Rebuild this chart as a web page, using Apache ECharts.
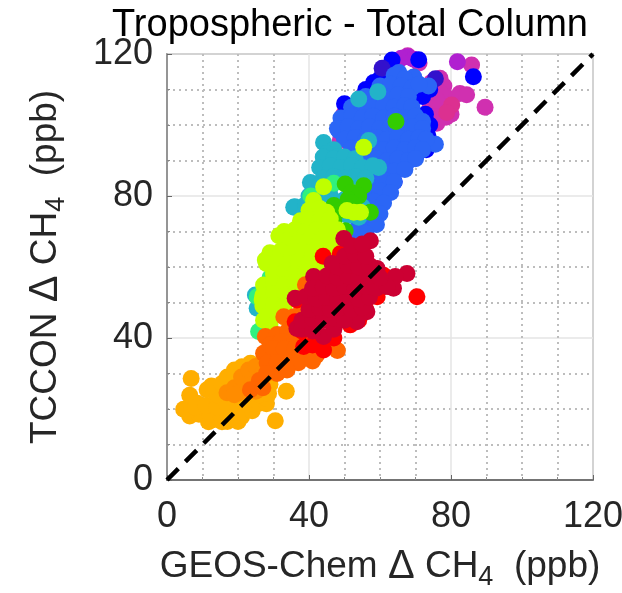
<!DOCTYPE html>
<html><head><meta charset="utf-8">
<style>html,body{margin:0;padding:0;background:#fff}#c{width:622px;height:593px}</style>
<script src="https://cdn.jsdelivr.net/npm/echarts@6/dist/echarts.min.js"></script>
</head><body><div id="c"></div>
<script>
const magenta=[[67.8,119.5],[65,118],[71,117.5],[76.9,113.2],[74.5,112],[78,111],[75,107],[77,105],[73,108],[78.6,102.2],[76,103.5],[78.5,108],[85.8,116.9],[82.5,108.9],[84.4,108.5],[89.6,105],[49.8,103],[48.8,95.6],[55,108],[61,113],[74,104.5],[79,105],[72,110],[75,110],[77,109],[76,107],[74,102],[80,103],[76,100.5]];
const rose=[[80.2,105.6],[78.8,103.5]];
const purple=[[67.8,119.2],[81.8,117.8],[66,118.8],[69.5,118.5]];
const violet=[[60.6,116],[75.6,113]];
const blue=[[63.4,118.3],[70.9,118.4],[58.2,112],[61,111.5],[50,106],[71.4,92.8],[72.8,103],[73.5,97],[74,100],[70,91],[62,81],[60,78],[56,68],[54,66],[86.3,113.6],[64,110],[72,108],[54,104],[68,90],[64,84],[74,110],[60,113],[56,110],[73,93]];
const royal=[[65.3,114.8],[69.5,113.5],[73.7,111],[75.6,94.6],[67.6,89.5],[62.4,82.4],[58.2,73],[55.4,69.3],[48.4,98.4],[50.7,101],
[64,114],[67,113],[60,111],[63,111.5],[66,111],[69,110.5],[71,111.5],
[56,108],[59,108.5],[62,108],[65,108.5],[68,108],
[52,105],[55,105.5],[58,105],[61,105.5],[64,105],[67,105.5],[69,105],
[49,102],[52,102.5],[55,102],[58,102.5],[61,102],[64,102.5],[67,102],[70,102.5],[72,101],
[48,99],[51,99.5],[54,99],[57,99.5],[60,99],[63,99.5],[66,99],[69,99.5],[72,99],
[50,96],[53,96.5],[56,96],[59,96.5],[62,96],[65,96.5],[68,96],[71,96.5],[73,96],
[52,93.5],[55,93],[58,93.5],[61,93],[64,93.5],[67,93],[70,93.5],[72,93],
[56,90],[59,90.5],[62,90],[65,90.5],[68,90],[70,90.5],
[58,87],[61,87.5],[64,87],[67,87.5],[58,84],[61,84.5],[64,84],
[57,81],[60,81.5],[63,81],[55,78],[58,78.5],[61,78],[54,75],[57,75.5],[60,75],[54,72],[57,72.5],[59,72],[53,69],[56,69.5]];
const cyan=[[44.1,95.1],[35.7,76.8],[40.4,83.8],[59.6,88],[54,107.3],[59.4,109.4],[56.8,95.6],
[47,93],[45,92],[48,91],[44,91],[47,90.5],[50,91],[53,90.5],[43,88],[46,88.5],[49,88],[52,88.5],[55,88],[58,88.5],
[44,85],[47,85.5],[50,85],[53,85.5],[56,85],[43,83],[46,82.5],[40,80],[43,80.5],[46,80],[50,79],[36,77],[39,77.5],[42,77],[48,77],[52,76.5],[55,77],[47,74],[51,74.5],[54,74]];
const spring=[[47,83.6],[40.5,80],[47.5,76.5],[44,75],[25.4,51.6],[25.8,41.8],[29,57],[43,70]];
const cyanLow=[[24.9,52.1],[25.4,48.4]];
const green=[[64.5,101],[50.2,83.4],[55.4,82.9],[52,81],[54,80],[51,79],[47,77.3],[49,76],[57.3,75.4],[50.2,70.2],[47,73],[52,78],[59.5,55.5]];
const lime=[[31.5,68.8],[27.7,62],[41.3,78.7],[37.6,73],[45,75.4],[44.1,82.6],[55.4,93.7],[50.7,75.9],[52.6,75.4],[54.5,75.4],
[40,76],[43,76.5],[40,73.5],[43,73],[46,73.5],[33,70],[36,70.5],[39,70],[42,70.5],[45,70],[48,70.5],
[34,67.5],[37,67],[40,67.5],[43,67],[46,67.5],[49,67],[29,64],[32,64.5],[35,64],[38,64.5],[41,64],[44,64.5],[47,64],
[28,61],[31,61.5],[34,61],[37,61.5],[40,61],[43,61.5],[46,61],[30,58],[33,58.5],[36,58],[39,58.5],[42,58],
[27.2,54.9],[30,55.5],[33,55],[36,55.5],[39,55],[26.8,50.7],[27,52],[30,52.5],[33,52],[36,52.5],[38,52],
[27,49],[30,49.5],[33,49],[27.2,45],[29,43.7],[28,46],[31,46.5],[33,46]];
const amber=[[6.8,28.6],[6.4,23.9],[4.7,19.9],[6.4,18],[8.5,21.6],[11.3,25.4],[11.7,16.4],[15.5,16.4],[21,17.8],[33.6,25],[30.5,16.7],
[9,18.5],[13,17],[17,16.5],[20,16.5],[12,18.5],[15,18.5],[18,17.5],[21,19],[24,19.5],[7,20],[8,20.5],[11,21],[14,20.5],[17,21],[20,20.5],[23,21.5],[26,21.6],[28,21.5],[28,23],
[14,24],[17,24.5],[20,24],[23,24.5],[26,24],[28.6,24.4],[29,27],[12.5,26.5],[15.5,27.2],[18,27],[21,27.5],[24,27],[27,27.5],[17,29],[19,31],[19,30],[22,30.5],[25,30],[21.1,31.9],[23.5,32.9]];
const darkAmber=[[16.9,24.6],[19,26],[21,29],[23,31],[25,32],[26,29],[24,27],[22,25],[20,24.5],[25,25],[27,30],[19,24]];
const orange=[[27.7,40.4],[31,41],[34,42],[32.9,46],[35.7,46],[27.2,35.7],[29,38],[32,39],[36,40],[39,39],[30,35],[30,37],[33,37],[36,37],[39,36],[42,35],[28.2,33],[31,33],[34,33],[37,33],[33.8,31],[31,30],[28,30],[26,28],[23.5,25.4],[27,26],[38,48],[39,52],[39,55],[46.5,38],[48,36.5],[41,33.5]];
const red=[[70.4,51.6],[61,57.7],[59.2,51.6],[36.1,44.6],[44.1,36.6],[38.5,37.6],[41,38],[51.6,43.7],[36.6,50.7],[48.8,63.7],[38,42],[47,40],[44,63],[56,48],[60,54],[54,45],[42,41]];
const crimson=[[36.1,51.2],[57.3,67.4],[49.8,68],[67.6,58.2],[64.3,57.3],[63.8,54],[56.3,47.4],[53.5,44.6],[44.1,40.4],[36.6,42.7],[41.3,57.3],[46.5,61],[59.2,59.6],[53.5,64.8],
[38,42.5],[41,42],[47,42.5],[38,45],[41,45.5],[44,45],[47,45.5],[50,45],[40,48],[43,48.5],[46,48],[49,48.5],[52,48],[55,48.5],
[39,51.6],[42,51],[45,51.5],[48,51],[51,51.5],[54,51],[57,51.5],[41,54],[44,54.5],[47,54],[50,54.5],[53,54],[56,54.5],[59,54],[62,54.5],
[45,57.5],[48,57],[51,57.5],[54,57],[57,57.5],[60,57],[48,60],[51,60.5],[54,60],[57,60.5],[50,63],[53,63.5],[56,63],[52,66],[55,66.5]];

const xTicks=[0,40,80,120], yTicks=[0,40,80,120];
const title='Tropospheric - Total Column';
const groups=[[magenta,'#d030b0'],[rose,'#dc3090'],[purple,'#b020d0'],[blue,'#0000ff'],[violet,'#3311cc'],[royal,'#2b66f6'],[cyan,'#22b3c9'],[cyanLow,'#22b3c9'],[spring,'#30f080'],[green,'#33cc00'],[lime,'#bfff00'],[amber,'#ffae00'],[darkAmber,'#ff8c00'],[orange,'#ff6600'],[red,'#ff0000'],[crimson,'#cc0033']];
const font='"Liberation Sans"';
const rich={sub:{fontSize:27,fontFamily:font,color:'#262626',padding:[22,0,0,0]},base:{fontSize:37,fontFamily:font,color:'#262626'},delta:{fontSize:40,fontFamily:font,color:'#262626'}};
function ax(name,gap,labelMargin,lineColor){return {
  type:'value',min:0,max:120,interval:40,name,nameLocation:'middle',nameGap:gap,
  nameTextStyle:{fontSize:37,fontFamily:font,color:'#262626',rich},
  axisLine:{show:true,onZero:false,lineStyle:{color:lineColor,width:1.5}},
  axisTick:{show:true,inside:true,length:5,lineStyle:{color:'#666',width:1}},
  minorTick:{show:true,splitNumber:4,length:3,lineStyle:{color:'#888',width:1}},
  splitLine:{show:true,lineStyle:{color:'#e4e4e4',width:1.5}},
  minorSplitLine:{show:true,lineStyle:{color:'#bdbdbd',width:2,type:[2,4]}},
  axisLabel:{fontSize:36,fontFamily:font,color:'#262626',margin:labelMargin,hideOverlap:false,showMinLabel:true,showMaxLabel:true}
};}
const chart=echarts.init(document.getElementById('c'),null,{renderer:'canvas'});
const series=groups.map(([d,c])=>({type:'scatter',data:d,symbol:'circle',symbolSize:17,itemStyle:{color:c,opacity:1},silent:true,animation:false,z:2}));
series.push({type:'line',data:[[0,0],[120,120]],symbol:'none',animation:false,z:5,silent:true,lineStyle:{color:'#000',width:4.5,type:[16,10]}});
chart.setOption({
  animation:false,backgroundColor:'#fff',
  title:{text:title,left:345,top:2,textAlign:'center',textStyle:{fontSize:38,fontWeight:'normal',fontFamily:font,color:'#000'}},
  grid:{left:167,right:29,top:54,bottom:113,show:true,borderColor:'#808080',borderWidth:1.5,backgroundColor:'transparent',outerBoundsMode:'none'},
  xAxis:ax('{base|GEOS-Chem }{delta|Δ}{base| CH}{sub|4}{base|  (ppb)}',62,19,'#555'),
  yAxis:ax('{base|TCCON }{delta|Δ}{base| CH}{sub|4}{base|  (ppb)}',97,14,'#808080'),
  series
});
</script></body></html>
